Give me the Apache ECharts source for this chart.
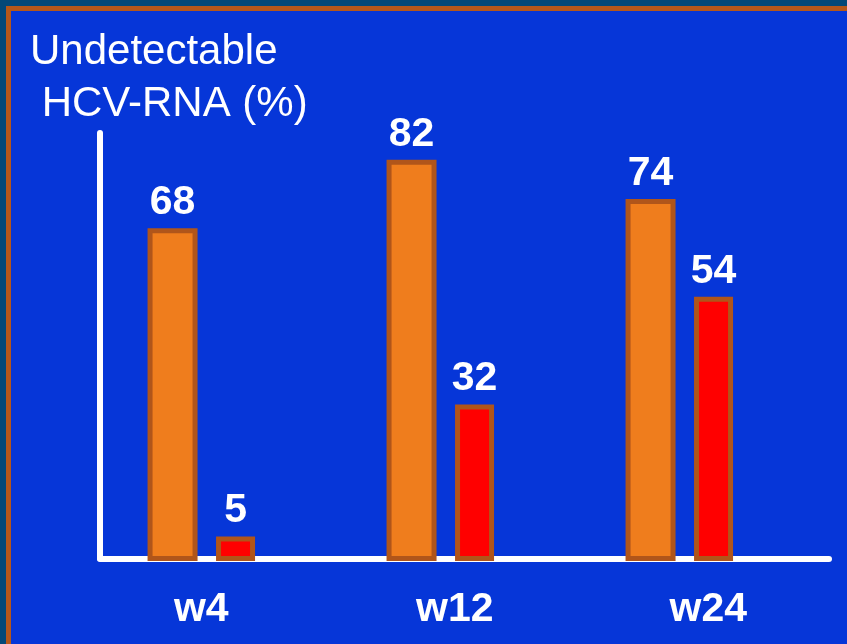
<!DOCTYPE html>
<html><head><meta charset="utf-8">
<script src="https://cdn.jsdelivr.net/npm/echarts@6/dist/echarts.min.js"></script>
<style>html,body{margin:0;padding:0;background:#0636d8}#c{width:847px;height:644px}</style>
</head><body><div id="c"></div>
<script>
const categories = ['w4', 'w12', 'w24'];
const orangeValues = [68, 82, 74];
const redValues = [5, 32, 54];
const titleText = 'Undetectable\n HCV-RNA (%)';
const yMax = 88;

const FONT = '"Liberation Sans", Arial, sans-serif';
const chart = echarts.init(document.getElementById('c'), null, {renderer: 'canvas'});
const gridTop = 133, gridBottom = 85.5;
const hiddenY = (i) => ({gridIndex: i, type: 'value', min: 0, max: yMax, show: false});
chart.setOption({
  animation: false,
  backgroundColor: '#0636d8',
  title: {
    text: titleText, left: 30, top: 26, padding: 0,
    textStyle: {color: '#ffffff', fontSize: 42, fontWeight: 'normal', lineHeight: 52, fontFamily: FONT}
  },
  graphic: [
    {type: 'rect', shape: {x: 0, y: 0, width: 847, height: 6}, style: {fill: '#044878'}, silent: true},
    {type: 'rect', shape: {x: 0, y: 0, width: 6, height: 644}, style: {fill: '#044878'}, silent: true},
    {type: 'rect', shape: {x: 6, y: 6, width: 841, height: 5}, style: {fill: '#b5571a'}, silent: true},
    {type: 'rect', shape: {x: 6, y: 6, width: 5, height: 638}, style: {fill: '#b5571a'}, silent: true}
  ],
  grid: [
    {left: 100, right: 18, top: gridTop, bottom: gridBottom},
    {left: 81.8, width: 717, top: gridTop - 2.5, bottom: gridBottom - 2.5},
    {left: 74.5, width: 760.5, top: gridTop, bottom: gridBottom}
  ],
  xAxis: [
    {gridIndex: 0, type: 'category', data: categories, z: 0,
     axisLine: {show: true, lineStyle: {color: '#ffffff', width: 6}},
     axisTick: {show: false}, axisLabel: {show: false}, splitLine: {show: false}},
    {gridIndex: 1, type: 'category', data: categories, show: false},
    {gridIndex: 2, type: 'category', data: categories,
     axisLine: {show: false}, axisTick: {show: false}, splitLine: {show: false},
     axisLabel: {show: true, color: '#ffffff', fontSize: 41, fontWeight: 'bold', fontFamily: FONT, margin: 31}}
  ],
  yAxis: [
    {gridIndex: 0, type: 'value', min: 0, max: yMax, z: 0,
     axisLine: {show: true, lineStyle: {color: '#ffffff', width: 6}},
     axisTick: {show: false}, axisLabel: {show: false}, splitLine: {show: false}},
    hiddenY(1),
    hiddenY(2)
  ],
  series: [
    {type: 'bar', xAxisIndex: 1, yAxisIndex: 1, data: orangeValues, barWidth: 50, barGap: '37%', z: 5,
     itemStyle: {color: '#ef7d1d', borderColor: '#b0551a', borderWidth: 5},
     label: {show: true, position: 'top', distance: 5, color: '#ffffff', fontSize: 41, fontWeight: 'bold', fontFamily: FONT, textBorderWidth: 0}},
    {type: 'bar', xAxisIndex: 1, yAxisIndex: 1, data: redValues, barWidth: 39, barGap: '37%', z: 5,
     itemStyle: {color: '#ff0000', borderColor: '#b0551a', borderWidth: 5},
     label: {show: true, position: 'top', distance: 5, color: '#ffffff', fontSize: 41, fontWeight: 'bold', fontFamily: FONT, textBorderWidth: 0}}
  ]
});
</script></body></html>
